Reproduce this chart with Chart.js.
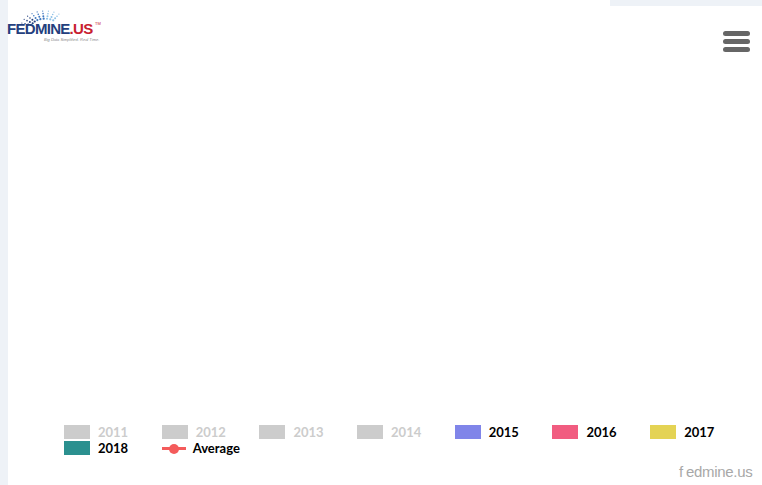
<!DOCTYPE html>
<html>
<head>
<meta charset="utf-8">
<script src="https://cdn.jsdelivr.net/npm/chart.js@4.4.1/dist/chart.umd.min.js"></script>
<style>
    html, body { margin: 0; padding: 0; }
    body { width: 762px; height: 485px; position: relative; overflow: hidden; background: #fff; font-family: Lato, "Open Sans", sans-serif; }
    .side { position: absolute; left: 0; top: 0; width: 8px; height: 485px; background: #eef2f7; }
    .topbar { position: absolute; left: 610px; top: 0; width: 152px; height: 6px; background: #eef2f7; }
    .logo { position: absolute; left: 7px; top: 6px; width: 100px; height: 40px; }
    .logo .name { position: absolute; left: 0; top: 14px; font: bold 15px "Liberation Sans", Arial, sans-serif; letter-spacing: -0.7px; color: #24407e; white-space: nowrap; }
    .logo .name span { color: #c8202f; }
    .logo .tm { position: absolute; left: 88px; top: 15px; font: 4px "Liberation Sans", sans-serif; color: #c8202f; }
    .logo .tag { position: absolute; left: 37px; top: 31px; font: italic 4px "Liberation Sans", sans-serif; color: #8a8a8a; white-space: nowrap; }
    .logo svg { position: absolute; left: 0; top: -4px; }
    .menu { position: absolute; left: 723px; top: 31px; width: 27px; }
    .menu div { height: 4.5px; background: #666; border-radius: 3px; margin-bottom: 3.5px; }
    #chartWrap { position: absolute; left: 8px; top: 44px; width: 740px; height: 370px; }
    .legend { position: absolute; left: 64px; top: 424px; width: 690px; margin: 0; padding: 0; list-style: none; display: flex; flex-wrap: wrap; }
    .legend li { width: 97.7px; height: 16px; display: flex; align-items: center; font: bold 13px Lato, sans-serif; color: #000; }
    .legend li.off { color: #cccccc; }
    .legend .box { width: 26px; height: 14px; margin-right: 8px; flex: none; }
    .legend .avg { position: relative; width: 26px; height: 14px; margin-right: 5px; flex: none; }
    .legend .avg:before { content: ''; position: absolute; left: 0; top: 6px; width: 24px; height: 3px; background: #f45b5b; }
    .legend .avg:after { content: ''; position: absolute; left: 7px; top: 2.5px; width: 10px; height: 10px; border-radius: 50%; background: #f45b5b; }
    .credit { position: absolute; left: 679px; top: 463px; font: 15px "Liberation Sans", Arial, sans-serif; color: #a8a8a8; letter-spacing: -0.3px; }
    .credit .f { margin-right: 3px; }
</style>
</head>
<body>
<div class="side"></div>
<div class="topbar"></div>
<div class="logo">
    <svg width="60" height="24" id="dots"></svg>
    <div class="name">FEDMINE<span>.US</span></div>
    <div class="tm">TM</div>
    <div class="tag">Big Data Simplified. Real Time.</div>
</div>
<div class="menu"><div></div><div></div><div></div></div>
<div id="chartWrap"><canvas id="myChart"></canvas></div>
<ul class="legend"></ul>
<div class="credit"><span class="f">f</span>edmine.us</div>

<script>
// chart data
const years = ['2011', '2012', '2013', '2014', '2015', '2016', '2017', '2018'];
const yearColors = ['#7cb5ec', '#434348', '#90ed7d', '#f7a35c', '#8085e9', '#f15c80', '#e4d354', '#2b908f'];
const hiddenYears = ['2011', '2012', '2013', '2014'];
const categories = [];          // nothing plotted in the reference
const yearValues = [[], [], [], [], [], [], [], []];
const averageValues = [];
const averageColor = '#f45b5b';

// logo dots (decoration)
const svg = document.getElementById('dots');
const dotRows = [[16, 0.6], [13, 0.8], [10, 1.0], [7, 1.1]];
dotRows.forEach(([r, size]) => {
    for (let i = 0; i < 10; i++) {
        const a = Math.PI * (1.02 + i * 0.075);
        const cx = 32 + Math.cos(a) * (r + 6) * 1.1;
        const cy = 26 + Math.sin(a) * (r + 4) * 0.85;
        const c = document.createElementNS('http://www.w3.org/2000/svg', 'circle');
        c.setAttribute('cx', cx + 6);
        c.setAttribute('cy', cy);
        c.setAttribute('r', size);
        c.setAttribute('fill', i < 4 ? '#24407e' : (i < 7 ? '#3f78c0' : '#8fc2e8'));
        svg.appendChild(c);
    }
});

const ctx = document.getElementById('myChart');
const datasets = years.map((y, i) => ({
    type: 'bar',
    label: y,
    data: yearValues[i],
    backgroundColor: yearColors[i],
    hidden: hiddenYears.includes(y)
}));
datasets.push({
    type: 'line',
    label: 'Average',
    data: averageValues,
    borderColor: averageColor,
    backgroundColor: averageColor,
    pointRadius: 5
});

const chart = new Chart(ctx, {
    type: 'bar',
    data: { labels: categories, datasets: datasets },
    options: {
        responsive: true,
        maintainAspectRatio: false,
        animation: false,
        plugins: { legend: { display: false }, tooltip: { enabled: false } },
        scales: { x: { display: false }, y: { display: false } }
    }
});

const legend = document.querySelector('.legend');
const populateLegend = () => {
    chart.data.datasets.forEach((d, i) => {
        const off = d.hidden ? ' class="off"' : '';
        const marker = d.type === 'line'
            ? '<span class="avg"></span>'
            : `<span class="box" style="background:${d.hidden ? '#cccccc' : d.backgroundColor}"></span>`;
        legend.innerHTML += `<li${off}>${marker}${d.label}</li>`;
    });
};

populateLegend();
</script>
</body>
</html>
